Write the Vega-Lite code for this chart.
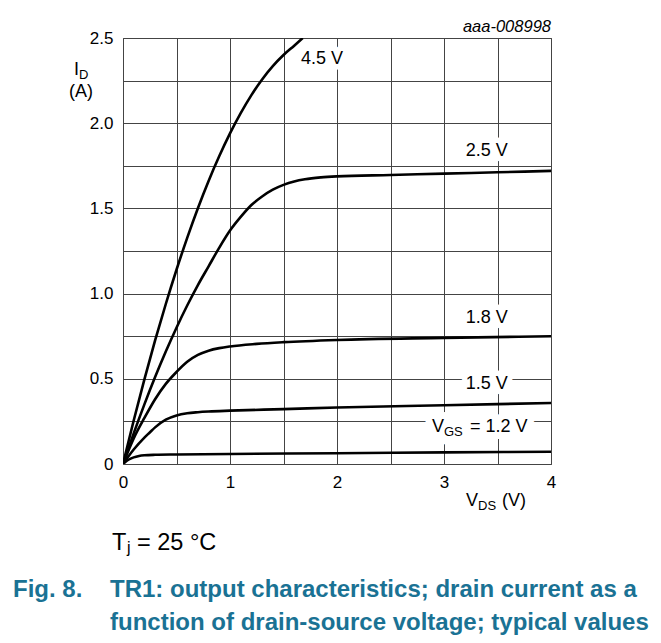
{
  "$schema": "https://vega.github.io/schema/vega-lite/v6.json",
  "width": 428,
  "height": 426,
  "autosize": {"type": "none"},
  "padding": {"left": 123, "top": 38, "right": 110, "bottom": 179},
  "background": "white",
  "config": {
    "view": {"stroke": "#444444", "strokeWidth": 1},
    "font": "Liberation Sans"
  },
  "datasets": {
    "curves": [
      {"vgs": "4.5", "x": 0, "y": 0}, {"vgs": "4.5", "x": 0.1, "y": 0.255}, {"vgs": "4.5", "x": 0.2, "y": 0.497},
      {"vgs": "4.5", "x": 0.3, "y": 0.725}, {"vgs": "4.5", "x": 0.4, "y": 0.939}, {"vgs": "4.5", "x": 0.5, "y": 1.14},
      {"vgs": "4.5", "x": 0.6, "y": 1.327}, {"vgs": "4.5", "x": 0.7, "y": 1.501}, {"vgs": "4.5", "x": 0.8, "y": 1.661},
      {"vgs": "4.5", "x": 0.9, "y": 1.807}, {"vgs": "4.5", "x": 1.0, "y": 1.94}, {"vgs": "4.5", "x": 1.1, "y": 2.059},
      {"vgs": "4.5", "x": 1.2, "y": 2.165}, {"vgs": "4.5", "x": 1.3, "y": 2.257}, {"vgs": "4.5", "x": 1.4, "y": 2.335},
      {"vgs": "4.5", "x": 1.5, "y": 2.40}, {"vgs": "4.5", "x": 1.6, "y": 2.455}, {"vgs": "4.5", "x": 1.68, "y": 2.5},
      {"vgs": "2.5", "x": 0, "y": 0}, {"vgs": "2.5", "x": 0.1, "y": 0.18}, {"vgs": "2.5", "x": 0.2, "y": 0.35},
      {"vgs": "2.5", "x": 0.3, "y": 0.51}, {"vgs": "2.5", "x": 0.4, "y": 0.66}, {"vgs": "2.5", "x": 0.5, "y": 0.80},
      {"vgs": "2.5", "x": 0.6, "y": 0.93}, {"vgs": "2.5", "x": 0.7, "y": 1.05}, {"vgs": "2.5", "x": 0.8, "y": 1.16},
      {"vgs": "2.5", "x": 0.9, "y": 1.27}, {"vgs": "2.5", "x": 1.0, "y": 1.37}, {"vgs": "2.5", "x": 1.1, "y": 1.45},
      {"vgs": "2.5", "x": 1.2, "y": 1.52}, {"vgs": "2.5", "x": 1.3, "y": 1.57}, {"vgs": "2.5", "x": 1.4, "y": 1.61},
      {"vgs": "2.5", "x": 1.5, "y": 1.638}, {"vgs": "2.5", "x": 1.6, "y": 1.658}, {"vgs": "2.5", "x": 1.7, "y": 1.671},
      {"vgs": "2.5", "x": 1.85, "y": 1.682}, {"vgs": "2.5", "x": 2.0, "y": 1.688}, {"vgs": "2.5", "x": 2.5, "y": 1.696},
      {"vgs": "2.5", "x": 3.0, "y": 1.704}, {"vgs": "2.5", "x": 3.5, "y": 1.712}, {"vgs": "2.5", "x": 4.0, "y": 1.72},
      {"vgs": "1.8", "x": 0, "y": 0}, {"vgs": "1.8", "x": 0.1, "y": 0.15}, {"vgs": "1.8", "x": 0.2, "y": 0.27},
      {"vgs": "1.8", "x": 0.3, "y": 0.38}, {"vgs": "1.8", "x": 0.4, "y": 0.47}, {"vgs": "1.8", "x": 0.5, "y": 0.54},
      {"vgs": "1.8", "x": 0.6, "y": 0.60}, {"vgs": "1.8", "x": 0.7, "y": 0.64}, {"vgs": "1.8", "x": 0.8, "y": 0.665},
      {"vgs": "1.8", "x": 0.9, "y": 0.68}, {"vgs": "1.8", "x": 1.0, "y": 0.69}, {"vgs": "1.8", "x": 1.25, "y": 0.705},
      {"vgs": "1.8", "x": 1.5, "y": 0.715}, {"vgs": "1.8", "x": 2.0, "y": 0.728}, {"vgs": "1.8", "x": 3.0, "y": 0.740},
      {"vgs": "1.8", "x": 4.0, "y": 0.75},
      {"vgs": "1.5", "x": 0, "y": 0}, {"vgs": "1.5", "x": 0.1, "y": 0.085}, {"vgs": "1.5", "x": 0.2, "y": 0.155},
      {"vgs": "1.5", "x": 0.25, "y": 0.185}, {"vgs": "1.5", "x": 0.3, "y": 0.215}, {"vgs": "1.5", "x": 0.4, "y": 0.26},
      {"vgs": "1.5", "x": 0.5, "y": 0.285}, {"vgs": "1.5", "x": 0.6, "y": 0.298}, {"vgs": "1.5", "x": 0.7, "y": 0.304},
      {"vgs": "1.5", "x": 0.8, "y": 0.308}, {"vgs": "1.5", "x": 1.0, "y": 0.313}, {"vgs": "1.5", "x": 1.5, "y": 0.322},
      {"vgs": "1.5", "x": 2.0, "y": 0.332}, {"vgs": "1.5", "x": 3.0, "y": 0.345}, {"vgs": "1.5", "x": 4.0, "y": 0.358},
      {"vgs": "1.2", "x": 0, "y": 0}, {"vgs": "1.2", "x": 0.05, "y": 0.025}, {"vgs": "1.2", "x": 0.1, "y": 0.039},
      {"vgs": "1.2", "x": 0.15, "y": 0.047}, {"vgs": "1.2", "x": 0.2, "y": 0.051}, {"vgs": "1.2", "x": 0.3, "y": 0.054},
      {"vgs": "1.2", "x": 0.5, "y": 0.056}, {"vgs": "1.2", "x": 1.0, "y": 0.059}, {"vgs": "1.2", "x": 2.0, "y": 0.063},
      {"vgs": "1.2", "x": 3.0, "y": 0.068}, {"vgs": "1.2", "x": 4.0, "y": 0.072}
    ],
    "curveLabels": [
      {"x": 1.86, "y": 2.374, "text": "4.5 V"},
      {"x": 3.40, "y": 1.834, "text": "2.5 V"},
      {"x": 3.40, "y": 0.854, "text": "1.8 V"},
      {"x": 3.40, "y": 0.47, "text": "1.5 V"}
    ],
    "vgsBig": [
      {"x": 2.888, "y": 0.188, "text": "V"},
      {"x": 3.243, "y": 0.188, "text": "= 1.2 V"}
    ],
    "vgsSmall": [
      {"x": 3.0, "y": 0.164, "text": "GS"}
    ],
    "axisBig": [
      {"x": 3.206, "y": -0.2465, "text": "V"},
      {"x": 3.542, "y": -0.2465, "text": "(V)"},
      {"x": -0.458, "y": 2.283, "text": "I"}
    ],
    "axisSmall": [
      {"x": 3.318, "y": -0.27, "text": "DS"},
      {"x": -0.411, "y": 2.259, "text": "D"}
    ],
    "axisCenter": [
      {"x": -0.3925, "y": 2.154, "text": "(A)"}
    ],
    "code": [
      {"x": 4.0, "y": 2.535, "text": "aaa-008998"}
    ],
    "tjBig": [
      {"x": -0.1028, "y": -0.5047, "text": "T"},
      {"x": 0.1308, "y": -0.5047, "text": "= 25 °C"}
    ],
    "tjSmall": [
      {"x": 0.037, "y": -0.524, "text": "j"}
    ],
    "caption": [
      {"x": -1.028, "y": -0.7805, "text": "Fig. 8."},
      {"x": -0.1215, "y": -0.7805, "text": "TR1: output characteristics; drain current as a"},
      {"x": -0.1215, "y": -0.974, "text": "function of drain-source voltage; typical values"}
    ]
  },
  "encoding": {
    "x": {
      "field": "x", "type": "quantitative",
      "scale": {"domain": [0, 4], "nice": false, "zero": false},
      "axis": {
        "title": null, "values": [0, 0.5, 1, 1.5, 2, 2.5, 3, 3.5, 4],
        "labelExpr": "datum.value % 1 == 0 ? format(datum.value, 'd') : ''",
        "ticks": false, "domain": false, "grid": true, "gridColor": "#444444", "gridOpacity": 1, "gridWidth": 1,
        "labelFont": "Liberation Sans", "labelFontSize": 17, "labelColor": "#000000", "labelPadding": 10,
        "labelFlush": false, "labelOverlap": false
      }
    },
    "y": {
      "field": "y", "type": "quantitative",
      "scale": {"domain": [0, 2.5], "nice": false, "zero": false},
      "axis": {
        "title": null, "values": [0, 0.25, 0.5, 0.75, 1, 1.25, 1.5, 1.75, 2, 2.25, 2.5],
        "labelExpr": "datum.value == 0 ? '0' : ((datum.value * 2) % 1 == 0 ? format(datum.value, '.1f') : '')",
        "ticks": false, "domain": false, "grid": true, "gridColor": "#444444", "gridOpacity": 1, "gridWidth": 1,
        "labelFont": "Liberation Sans", "labelFontSize": 17, "labelColor": "#000000", "labelPadding": 10,
        "labelFlush": false, "labelOverlap": false
      }
    }
  },
  "layer": [
    {
      "data": {"name": "curveLabels"},
      "mark": {"type": "text", "font": "Liberation Sans", "fontSize": 18, "align": "center", "baseline": "middle", "fill": "white", "stroke": "white", "strokeWidth": 11, "strokeJoin": "round"},
      "encoding": {"text": {"field": "text"}}
    },
    {
      "data": {"name": "vgsBig"},
      "mark": {"type": "text", "font": "Liberation Sans", "fontSize": 18, "align": "left", "baseline": "alphabetic", "fill": "white", "stroke": "white", "strokeWidth": 14, "strokeJoin": "round"},
      "encoding": {"text": {"field": "text"}}
    },
    {
      "data": {"name": "vgsSmall"},
      "mark": {"type": "text", "font": "Liberation Sans", "fontSize": 13, "align": "left", "baseline": "alphabetic", "fill": "white", "stroke": "white", "strokeWidth": 18, "strokeJoin": "round"},
      "encoding": {"text": {"field": "text"}}
    },
    {
      "data": {"name": "curves"},
      "mark": {"type": "line", "interpolate": "monotone", "color": "#000000", "strokeWidth": 2.6, "clip": true},
      "encoding": {"detail": {"field": "vgs"}}
    },
    {
      "data": {"name": "curveLabels"},
      "mark": {"type": "text", "font": "Liberation Sans", "fontSize": 18, "align": "center", "baseline": "middle", "color": "#000000"},
      "encoding": {"text": {"field": "text"}}
    },
    {
      "data": {"name": "vgsBig"},
      "mark": {"type": "text", "font": "Liberation Sans", "fontSize": 18, "align": "left", "baseline": "alphabetic", "color": "#000000"},
      "encoding": {"text": {"field": "text"}}
    },
    {
      "data": {"name": "vgsSmall"},
      "mark": {"type": "text", "font": "Liberation Sans", "fontSize": 13, "align": "left", "baseline": "alphabetic", "color": "#000000"},
      "encoding": {"text": {"field": "text"}}
    },
    {
      "data": {"name": "axisBig"},
      "mark": {"type": "text", "font": "Liberation Sans", "fontSize": 18, "align": "left", "baseline": "alphabetic", "color": "#000000"},
      "encoding": {"text": {"field": "text"}}
    },
    {
      "data": {"name": "axisSmall"},
      "mark": {"type": "text", "font": "Liberation Sans", "fontSize": 13, "align": "left", "baseline": "alphabetic", "color": "#000000"},
      "encoding": {"text": {"field": "text"}}
    },
    {
      "data": {"name": "axisCenter"},
      "mark": {"type": "text", "font": "Liberation Sans", "fontSize": 18, "align": "center", "baseline": "alphabetic", "color": "#000000"},
      "encoding": {"text": {"field": "text"}}
    },
    {
      "data": {"name": "code"},
      "mark": {"type": "text", "font": "Liberation Sans", "fontSize": 16.5, "fontStyle": "italic", "align": "right", "baseline": "alphabetic", "color": "#000000"},
      "encoding": {"text": {"field": "text"}}
    },
    {
      "data": {"name": "tjBig"},
      "mark": {"type": "text", "font": "Liberation Sans", "fontSize": 23.5, "align": "left", "baseline": "alphabetic", "color": "#000000"},
      "encoding": {"text": {"field": "text"}}
    },
    {
      "data": {"name": "tjSmall"},
      "mark": {"type": "text", "font": "Liberation Sans", "fontSize": 16, "align": "left", "baseline": "alphabetic", "color": "#000000"},
      "encoding": {"text": {"field": "text"}}
    },
    {
      "data": {"name": "caption"},
      "mark": {"type": "text", "font": "Liberation Sans", "fontSize": 24, "fontWeight": "bold", "align": "left", "baseline": "alphabetic", "color": "#1a7294"},
      "encoding": {"text": {"field": "text"}}
    }
  ]
}
